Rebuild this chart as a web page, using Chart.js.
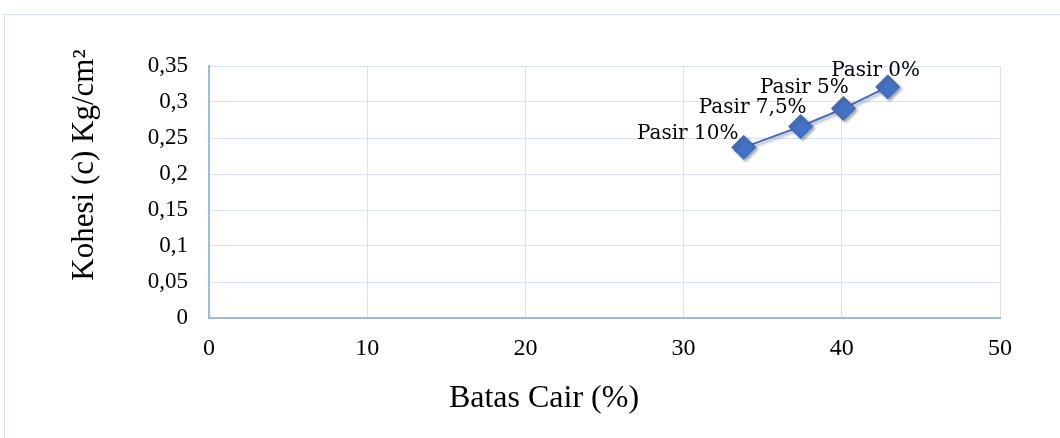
<!DOCTYPE html>
<html>
<head>
<meta charset="utf-8">
<script src="https://cdn.jsdelivr.net/npm/chart.js@4/dist/chart.umd.min.js"></script>
<style>
html,body{margin:0;padding:0;background:#fff;}
#wrap{position:relative;width:1060px;height:438px;}
</style>
</head>
<body>
<div id="wrap"><canvas id="c" width="1060" height="438"></canvas></div>
<script>
const labels = ["Pasir 10%", "Pasir 7,5%", "Pasir 5%", "Pasir 0%"];
const batasCair = [33.8, 37.4, 40.1, 42.9];
const kohesi = [0.237, 0.266, 0.291, 0.321];
const xTicks = [0, 10, 20, 30, 40, 50];
const yTicks = [0, 0.05, 0.1, 0.15, 0.2, 0.25, 0.3, 0.35];
const xTitle = "Batas Cair (%)";
const yTitle = "Kohesi (c) Kg/cm\u00B2";

// label offsets (styling only)
const labelOffsets = [[-56,-14],[-48,-19],[-39,-21],[-12,-16]];

const fmt = v => (Math.round(v*100)/100).toString().replace('.', ',');

const deco = {
  id: 'deco',
  beforeDraw(chart) {
    const ctx = chart.ctx;
    ctx.save();
    ctx.strokeStyle = '#D5E1F2';
    ctx.lineWidth = 1;
    ctx.strokeRect(4.5, 14.5, 1200, 600);
    ctx.restore();
  },
  beforeDatasetsDraw(chart) {
    const ctx = chart.ctx;
    ctx.save();
    ctx.shadowColor = 'rgba(0,0,0,0.35)';
    ctx.shadowBlur = 3;
    ctx.shadowOffsetX = 2;
    ctx.shadowOffsetY = 2;
  },
  afterDatasetsDraw(chart) {
    const ctx = chart.ctx;
    ctx.restore();
    const meta = chart.getDatasetMeta(0);
    ctx.save();
    ctx.fillStyle = '#000';
    ctx.font = '20px "DejaVu Serif"';
    ctx.textAlign = 'center';
    ctx.textBaseline = 'middle';
    meta.data.forEach((pt, i) => {
      const o = labelOffsets[i];
      ctx.fillText(labels[i], pt.x + o[0], pt.y + o[1]);
    });
    ctx.restore();
  },
  afterDraw(chart) {
    const ctx = chart.ctx;
    ctx.save();
    ctx.fillStyle = '#000';
    ctx.textAlign = 'center';
    ctx.textBaseline = 'alphabetic';
    ctx.font = '31px "Liberation Serif"';
    ctx.translate(93, 165);
    ctx.rotate(-Math.PI/2);
    ctx.fillText(yTitle, 0, 0);
    ctx.restore();
    ctx.save();
    ctx.fillStyle = '#000';
    ctx.textAlign = 'center';
    ctx.textBaseline = 'alphabetic';
    ctx.font = '32px "Liberation Serif"';
    ctx.fillText(xTitle, 544, 407);
    ctx.restore();
  }
};

new Chart(document.getElementById('c'), {
  type: 'scatter',
  data: {
    datasets: [{
      label: 'Kohesi',
      data: batasCair.map((x, i) => ({x: x, y: kohesi[i]})),
      showLine: true,
      borderColor: '#4472C4',
      borderWidth: 2,
      backgroundColor: '#4472C4',
      pointStyle: 'rectRot',
      pointRadius: 12,
      pointHoverRadius: 12,
      pointBorderColor: '#3D67B1',
      pointBorderWidth: 1
    }]
  },
  options: {
    responsive: false,
    animation: false,
    devicePixelRatio: 1,
    layout: { padding: { top: 66, right: 60, bottom: 0, left: 0 } },
    plugins: { legend: { display: false }, tooltip: { enabled: false } },
    scales: {
      x: {
        type: 'linear',
        min: xTicks[0], max: xTicks[xTicks.length-1],
        afterBuildTicks(scale) { scale.ticks = xTicks.map(v => ({value: v})); },
        afterFit(scale) { scale.height = 120; },
        grid: { color: '#D9E2F3', lineWidth: 1, drawTicks: false },
        border: { color: '#9DB9E3', width: 2 },
        ticks: { color: '#000', padding: 16, font: { family: 'Liberation Serif', size: 24 }, callback: v => fmt(v), maxRotation: 0 }
      },
      y: {
        type: 'linear',
        min: yTicks[0], max: yTicks[yTicks.length-1],
        afterBuildTicks(scale) { scale.ticks = yTicks.map(v => ({value: v})); },
        afterFit(scale) { scale.width = 209; },
        grid: { color: '#D9E2F3', lineWidth: 1, drawTicks: false },
        border: { color: '#9DB9E3', width: 2 },
        ticks: { color: '#000', padding: 21, font: { family: 'Liberation Serif', size: 23 }, callback: v => fmt(v) }
      }
    }
  },
  plugins: [deco]
});
</script>
</body>
</html>
